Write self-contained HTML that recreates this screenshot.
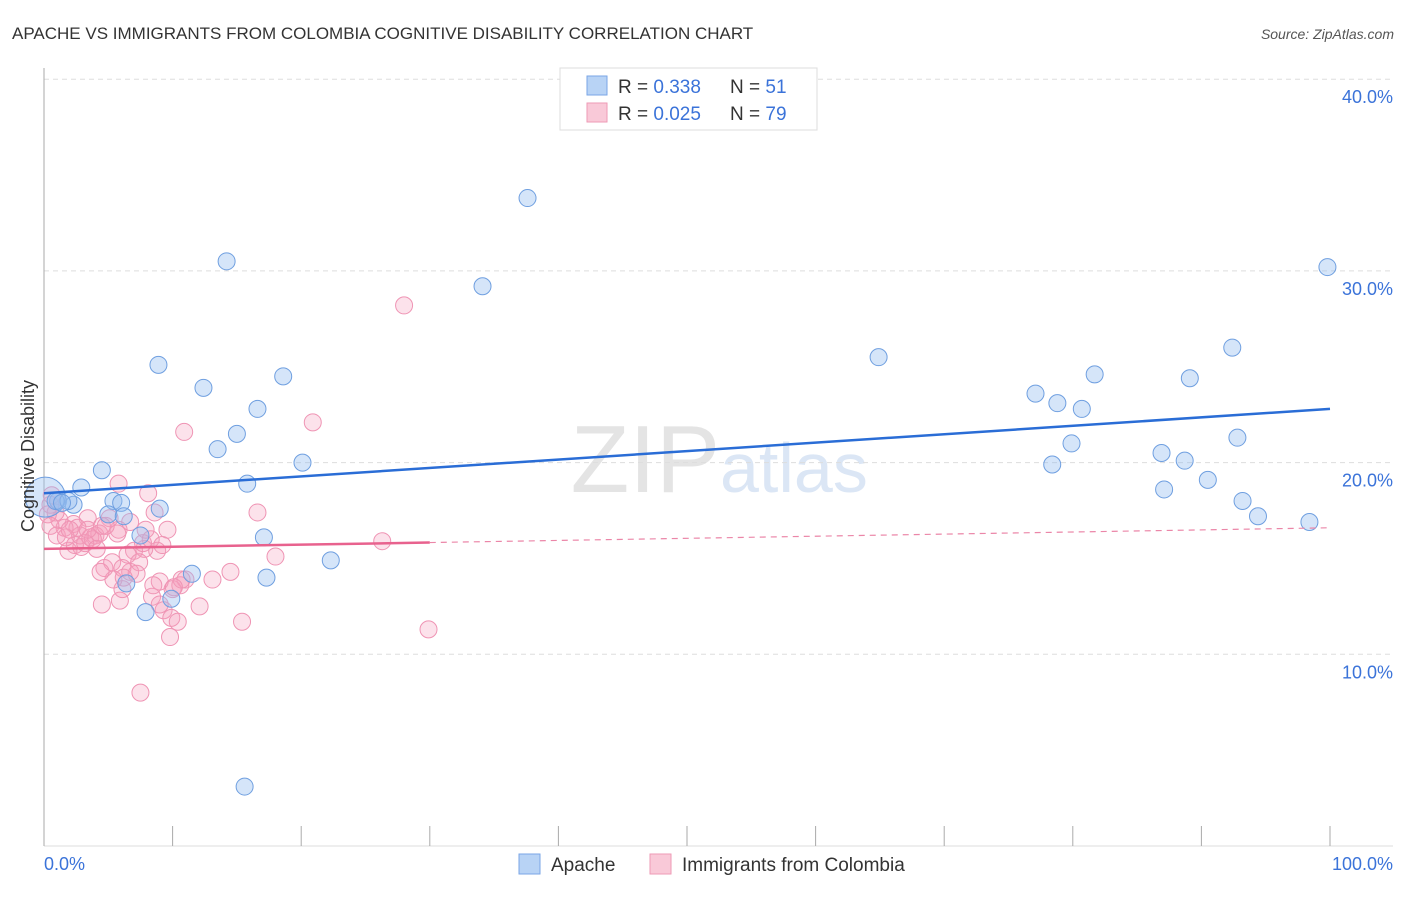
<!DOCTYPE html>
<html><head><meta charset="utf-8"><style>
body{margin:0;background:#fff;font-family:"Liberation Sans",sans-serif;}
svg text{font-family:"Liberation Sans",sans-serif;}
</style></head><body>
<svg id="chart" width="1406" height="892">
<text x="12" y="39" font-size="17" fill="#333">APACHE VS IMMIGRANTS FROM COLOMBIA COGNITIVE DISABILITY CORRELATION CHART</text>
<text x="1394" y="39" font-size="14" fill="#555" font-style="italic" text-anchor="end">Source: ZipAtlas.com</text>
<text x="720" y="492" font-size="96" fill="#e4e4e4" text-anchor="end" font-family="Liberation Serif">ZIP</text>
<text x="720" y="492" font-size="70" fill="#dbe6f5">atlas</text>
<g id="grid"></g>
<g id="axes"></g>
<g id="pts"></g>
<g id="trend"></g>
<text transform="translate(34,456) rotate(-90)" font-size="18" fill="#333" text-anchor="middle">Cognitive Disability</text>
<text x="44" y="870" font-size="18" fill="#3b73d9">0.0%</text>
<text x="1393" y="870" font-size="18" fill="#3b73d9" text-anchor="end">100.0%</text>
<g>
<rect x="560" y="68" width="257" height="62" fill="#fff" stroke="#ddd"/>
<rect x="587" y="76" width="20" height="19" fill="#b8d3f5" stroke="#7aa6e6"/>
<rect x="587" y="103" width="20" height="19" fill="#f9c9d8" stroke="#ee9ab6"/>
<text x="618" y="93" font-size="19" fill="#333">R = <tspan fill="#3b73d9">0.338</tspan></text>
<text x="730" y="93" font-size="19" fill="#333">N = <tspan fill="#3b73d9"> 51</tspan></text>
<text x="618" y="120" font-size="19" fill="#333">R = <tspan fill="#3b73d9">0.025</tspan></text>
<text x="730" y="120" font-size="19" fill="#333">N = <tspan fill="#3b73d9">79</tspan></text>
</g>
<g>
<rect x="519" y="854" width="21" height="20" fill="#b8d3f5" stroke="#7aa6e6"/>
<text x="551" y="871" font-size="19" fill="#333">Apache</text>
<rect x="650" y="854" width="21" height="20" fill="#f9c9d8" stroke="#ee9ab6"/>
<text x="682" y="871" font-size="19" fill="#333">Immigrants from Colombia</text>
</g>
</svg>
<script>
const yTicks=[10,20,30,40];
const yTickLabels=["10.0%","20.0%","30.0%","40.0%"];
const xTicks=[0,10,20,30,40,50,60,70,80,90,100];
const apacheX=[37.6,14.2,34.1,99.8,8.9,64.9,12.4,18.6,16.6,15.0,13.5,92.4,81.7,89.1,77.1,78.8,80.7,92.8,79.9,78.4,86.9,88.7,20.1,4.5,90.5,87.1,15.8,2.9,93.2,94.4,98.4,5.4,1.1,2.3,6.0,9.0,5.0,6.2,17.1,7.5,22.3,11.5,17.3,6.4,9.9,7.9,15.6,0.1,0.9,1.9,1.4];
const apacheY=[33.8,30.5,29.2,30.2,25.1,25.5,23.9,24.5,22.8,21.5,20.7,26.0,24.6,24.4,23.6,23.1,22.8,21.3,21.0,19.9,20.5,20.1,20.0,19.6,19.1,18.6,18.9,18.7,18.0,17.2,16.9,18.0,18.0,17.8,17.9,17.6,17.3,17.2,16.1,16.2,14.9,14.2,14.0,13.7,12.9,12.2,3.1,18.2,18.0,18.0,17.9];
const colX=[28.0,10.9,20.9,5.8,8.1,16.6,8.6,9.6,26.3,18.0,29.9,15.4,12.1,13.1,14.5,11.0,10.0,10.6,9.0,8.4,9.3,9.9,10.4,9.8,7.5,4.5,5.9,6.1,5.4,6.7,4.7,5.3,8.8,7.8,7.0,7.7,8.3,6.5,5.8,5.1,3.4,2.3,2.9,1.9,2.4,2.8,3.6,4.0,4.3,3.8,3.2,2.6,1.6,1.2,0.9,0.5,0.6,0.3,0.5,1.0,1.7,2.0,3.4,4.5,5.7,7.4,6.1,7.2,4.4,4.1,9.2,7.9,6.7,4.8,8.5,10.7,10.1,6.2,9.0];
const colY=[28.2,21.6,22.1,18.9,18.4,17.4,17.4,16.5,15.9,15.1,11.3,11.7,12.5,13.9,14.3,13.9,13.4,13.6,13.8,13.0,12.3,11.9,11.7,10.9,8.0,12.6,12.8,13.4,13.9,14.3,14.5,14.8,15.4,15.5,15.4,15.8,16.0,15.2,16.5,17.1,17.1,16.8,15.6,15.4,15.7,16.2,16.1,16.2,16.3,16.0,15.8,16.6,16.6,17.0,17.4,17.8,18.3,17.3,16.7,16.2,16.1,16.5,16.5,16.7,16.3,14.8,14.5,14.2,14.3,15.5,15.7,16.5,16.9,16.7,13.6,13.9,13.5,14.0,12.6];
const apacheTrend=[18.4,22.8];
const colTrend=[15.5,16.6];
const colSolidEnd=30;
const NS="http://www.w3.org/2000/svg";
const X=v=>44+v*12.86, Y=v=>846-v*19.17;
function mk(tag,attrs,parent){const e=document.createElementNS(NS,tag);for(const k in attrs)e.setAttribute(k,attrs[k]);parent.appendChild(e);return e;}
const grid=document.getElementById('grid'),axes=document.getElementById('axes'),pts=document.getElementById('pts'),tr=document.getElementById('trend');
yTicks.forEach((t,i)=>{
 const l=mk('line',{x1:44,x2:1393,y1:Y(t),y2:Y(t),stroke:'#ddd','stroke-dasharray':'5,4'},grid);
 
 
 const tx=mk('text',{x:1393,y:Y(t)+24,'font-size':18,fill:'#3b73d9','text-anchor':'end'},grid);
 tx.textContent=yTickLabels[i];
 
 
});
const ya=mk('line',{x1:44,x2:44,y1:68,y2:846,stroke:'#aaa'},axes);


const xa=mk('line',{x1:44,x2:1393,y1:846,y2:846,stroke:'#ddd'},axes);


xTicks.forEach(t=>{
 const l=mk('line',{x1:X(t),x2:X(t),y1:826,y2:846,stroke:'#aaa'},axes);
 
 
});
colX.forEach((v,i)=>{
 const c=mk('circle',{cx:X(v),cy:Y(colY[i]),r:8.5,fill:'rgba(245,160,190,0.3)',stroke:'#ef94b4','stroke-width':1},pts);
 
 
});
apacheX.forEach((v,i)=>{
 const c=mk('circle',{cx:X(v),cy:Y(apacheY[i]),r:i===47?20:8.5,fill:'rgba(150,190,240,0.4)',stroke:'#6f9fe0','stroke-width':1},pts);
 
 
});
const bl=mk('line',{x1:X(0),x2:X(100),y1:Y(apacheTrend[0]),y2:Y(apacheTrend[1]),stroke:'#2a6dd6','stroke-width':2.5},tr);


const cs=v=>colTrend[0]+(colTrend[1]-colTrend[0])*v/100;
const pl=mk('line',{x1:X(0),x2:X(colSolidEnd),y1:Y(cs(0)),y2:Y(cs(colSolidEnd)),stroke:'#e8628e','stroke-width':2.5},tr);


const pd=mk('line',{x1:X(colSolidEnd),x2:X(100),y1:Y(cs(colSolidEnd)),y2:Y(cs(100)),stroke:'#eb86a8','stroke-width':1.2,'stroke-dasharray':'6,5'},tr);


</script>
</body></html>
